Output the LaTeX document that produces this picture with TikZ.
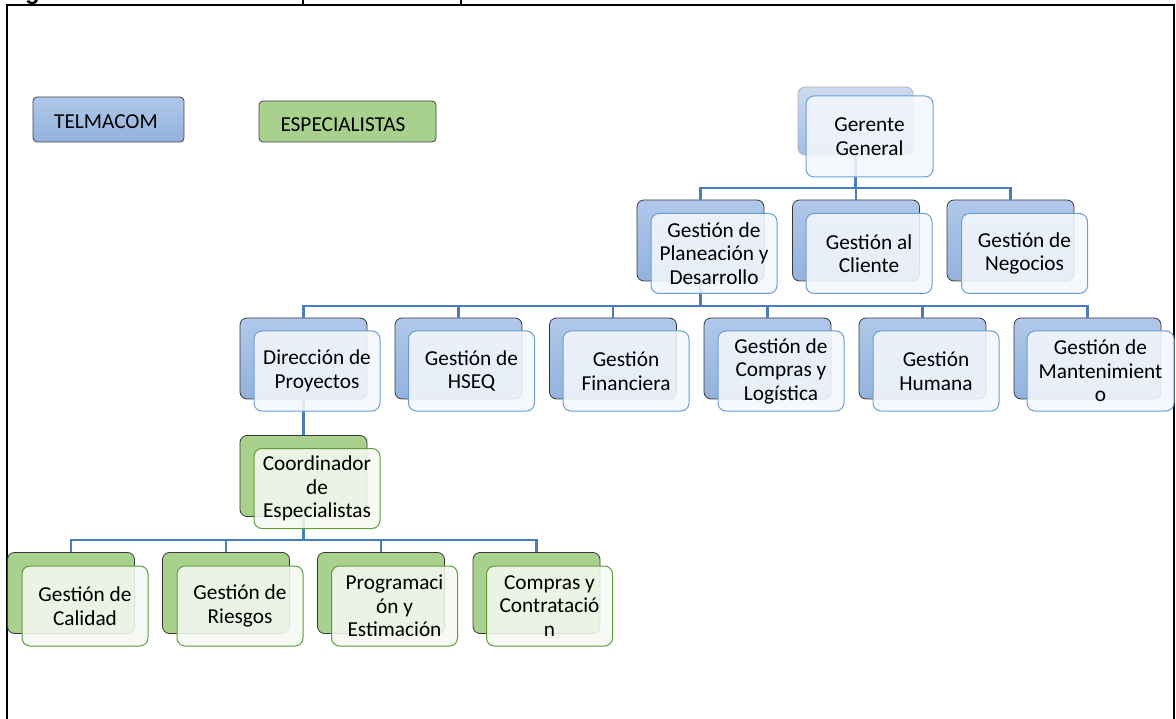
\documentclass[tikz,border=0pt]{standalone}
\usepackage{fontspec}
\setmainfont{Carlito}
\newfontfamily\capfont{Liberation Sans}
\definecolor{bluetop}{HTML}{B0C8EA}
\definecolor{bluebot}{HTML}{93B2DD}
\definecolor{greenfill}{HTML}{A9D18E}
\definecolor{frontblue}{HTML}{6A9FD6}
\definecolor{frontgreen}{HTML}{5E9C3A}
\definecolor{fillblue}{HTML}{F4F7FC}
\definecolor{fillgreen}{HTML}{F5F8F2}
\definecolor{connblue}{HTML}{4A7EBB}
\begin{document}
\begin{tikzpicture}[x=1pt,y=-1pt,
  backb/.style={rectangle, rounded corners=7pt, draw=black!78, line width=0.8pt,
    top color=bluetop, bottom color=bluebot, minimum width=127pt, minimum height=81pt, inner sep=0pt},
  backg/.style={backb, top color=greenfill, bottom color=greenfill},
  backtop/.style={rectangle, rounded corners=7pt, draw=black!30, line width=0.8pt,
    top color=BlueTopLight, bottom color=BlueBotLight, minimum width=115pt, minimum height=68pt, inner sep=0pt},
  frontb/.style={rectangle, rounded corners=8pt, draw=frontblue, line width=1pt,
    fill=fillblue, fill opacity=0.88, text opacity=1, minimum width=126pt, minimum height=80pt,
    align=center, inner sep=0pt, font=\fontsize{21.3}{23.5}\selectfont},
  frontg/.style={frontb, draw=frontgreen, fill=fillgreen},
  legend/.style={rectangle, rounded corners=4pt, draw=black!75, line width=0.8pt, inner sep=0pt},
  legtext/.style={inner sep=0pt, font=\fontsize{21.3}{24}\selectfont},
  conn/.style={draw=connblue, line width=2.6pt},
  tick/.style={draw=black, line width=1.5pt}
]
\colorlet{BlueTopLight}{bluetop!65!white}
\colorlet{BlueBotLight}{bluebot!85!white}
\useasboundingbox (0,0) rectangle (1176,719);

% frame and caption fragments
\draw[line width=1.6pt] (7,740) -- (7,5) -- (1174,5) -- (1174,740);
\node[font=\capfont\bfseries\fontsize{24}{28}\selectfont, anchor=base, inner sep=0pt] (capg) at (32.5,-0.5) {g};
\coordinate (t1a) at (303,0); \coordinate (t1b) at (303,5);
\coordinate (t2a) at (461,0); \coordinate (t2b) at (461,5);
\draw[tick] (t1a) -- (t1b);
\draw[tick] (t2a) -- (t2b);

% legend
\node[legend, top color=bluetop, bottom color=bluebot, minimum width=151pt, minimum height=45pt] (leg1) at (108.5,119.5) {};
\node[legtext] (leg1t) at (106,121.5) {TELMACOM};
\node[legend, fill=greenfill, minimum width=177pt, minimum height=41pt] (leg2) at (347.5,121.5) {};
\node[legtext] (leg2t) at (343,124.5) {ESPECIALISTAS};

% back boxes
\node[backtop] (g0) at (855.5,121) {};
\node[backb] (p0) at (700.5,240.5) {};
\node[backb] (c0) at (856,240.5) {};
\node[backb] (n0) at (1010.5,240.5) {};
\node[backb] (d0) at (303.5,358.5) {};
\node[backb] (h0) at (458.5,358.5) {};
\node[backb] (f0) at (613,358.5) {};
\node[backb] (l0) at (767.5,358.5) {};
\node[backb] (u0) at (922.5,358.5) {};
\node[backb, minimum width=147pt] (m0) at (1087.5,358.5) {};
\node[backg] (k0) at (303.5,476) {};
\node[backg] (q0) at (71,593) {};
\node[backg] (r0) at (226,593) {};
\node[backg] (e0) at (381,593) {};
\node[backg] (x0) at (536.5,593) {};

% connectors
\coordinate (bus1) at (0,188);
\coordinate (bus2) at (0,306);
\coordinate (bus3) at (0,540);
\draw[conn] (g0.south) -- (g0.south |- bus1);
\draw[conn] (p0.north) |- (n0.north |- bus1) -- (n0.north);
\draw[conn] (c0.north) -- (c0.north |- bus1);
\draw[conn] (p0.south) -- (p0.south |- bus2);
\draw[conn] (d0.north) |- (m0.north |- bus2) -- (m0.north);
\foreach \b in {h0,f0,l0,u0} \draw[conn] (\b.north) -- (\b.north |- bus2);
\draw[conn] (d0.south) -- (k0.north);
\draw[conn] (k0.south) -- (k0.south |- bus3);
\draw[conn] (q0.north) |- (x0.north |- bus3) -- (x0.north);
\foreach \b in {r0,e0} \draw[conn] (\b.north) -- (\b.north |- bus3);

% front boxes
\node[frontb, minimum width=127pt, minimum height=81pt] (g1) at (869.5,136.5) {Gerente\\General};
\node[frontb] (p1) at (714,253.5) {Gestión de\\Planeación y\\Desarrollo};
\node[frontb] (c1) at (869,253.5) {Gestión al\\Cliente};
\node[frontb] (n1) at (1024.5,253.5) {Gestión de\\Negocios};
\node[frontb] (d1) at (317,371) {Dirección de\\Proyectos};
\node[frontb] (h1) at (471.5,371) {Gestión de\\HSEQ};
\node[frontb] (f1) at (626,371) {Gestión\\Financiera};
\node[frontb] (l1) at (781,371) {Gestión de\\Compras y\\Logística};
\node[frontb] (u1) at (936,371) {Gestión\\Humana};
\node[frontb, minimum width=147pt] (m1) at (1100.5,371) {Gestión de\\Mantenimient\\o};
\node[frontg] (k1) at (317,488.5) {Coordinador\\de\\Especialistas};
\node[frontg] (q1) at (85,606) {Gestión de\\Calidad};
\node[frontg] (r1) at (240,606) {Gestión de\\Riesgos};
\node[frontg] (e1) at (394.5,606) {Programaci\\ón y\\Estimación};
\node[frontg] (x1) at (549.5,606) {Compras y\\Contratació\\n};
\end{tikzpicture}
\end{document}
